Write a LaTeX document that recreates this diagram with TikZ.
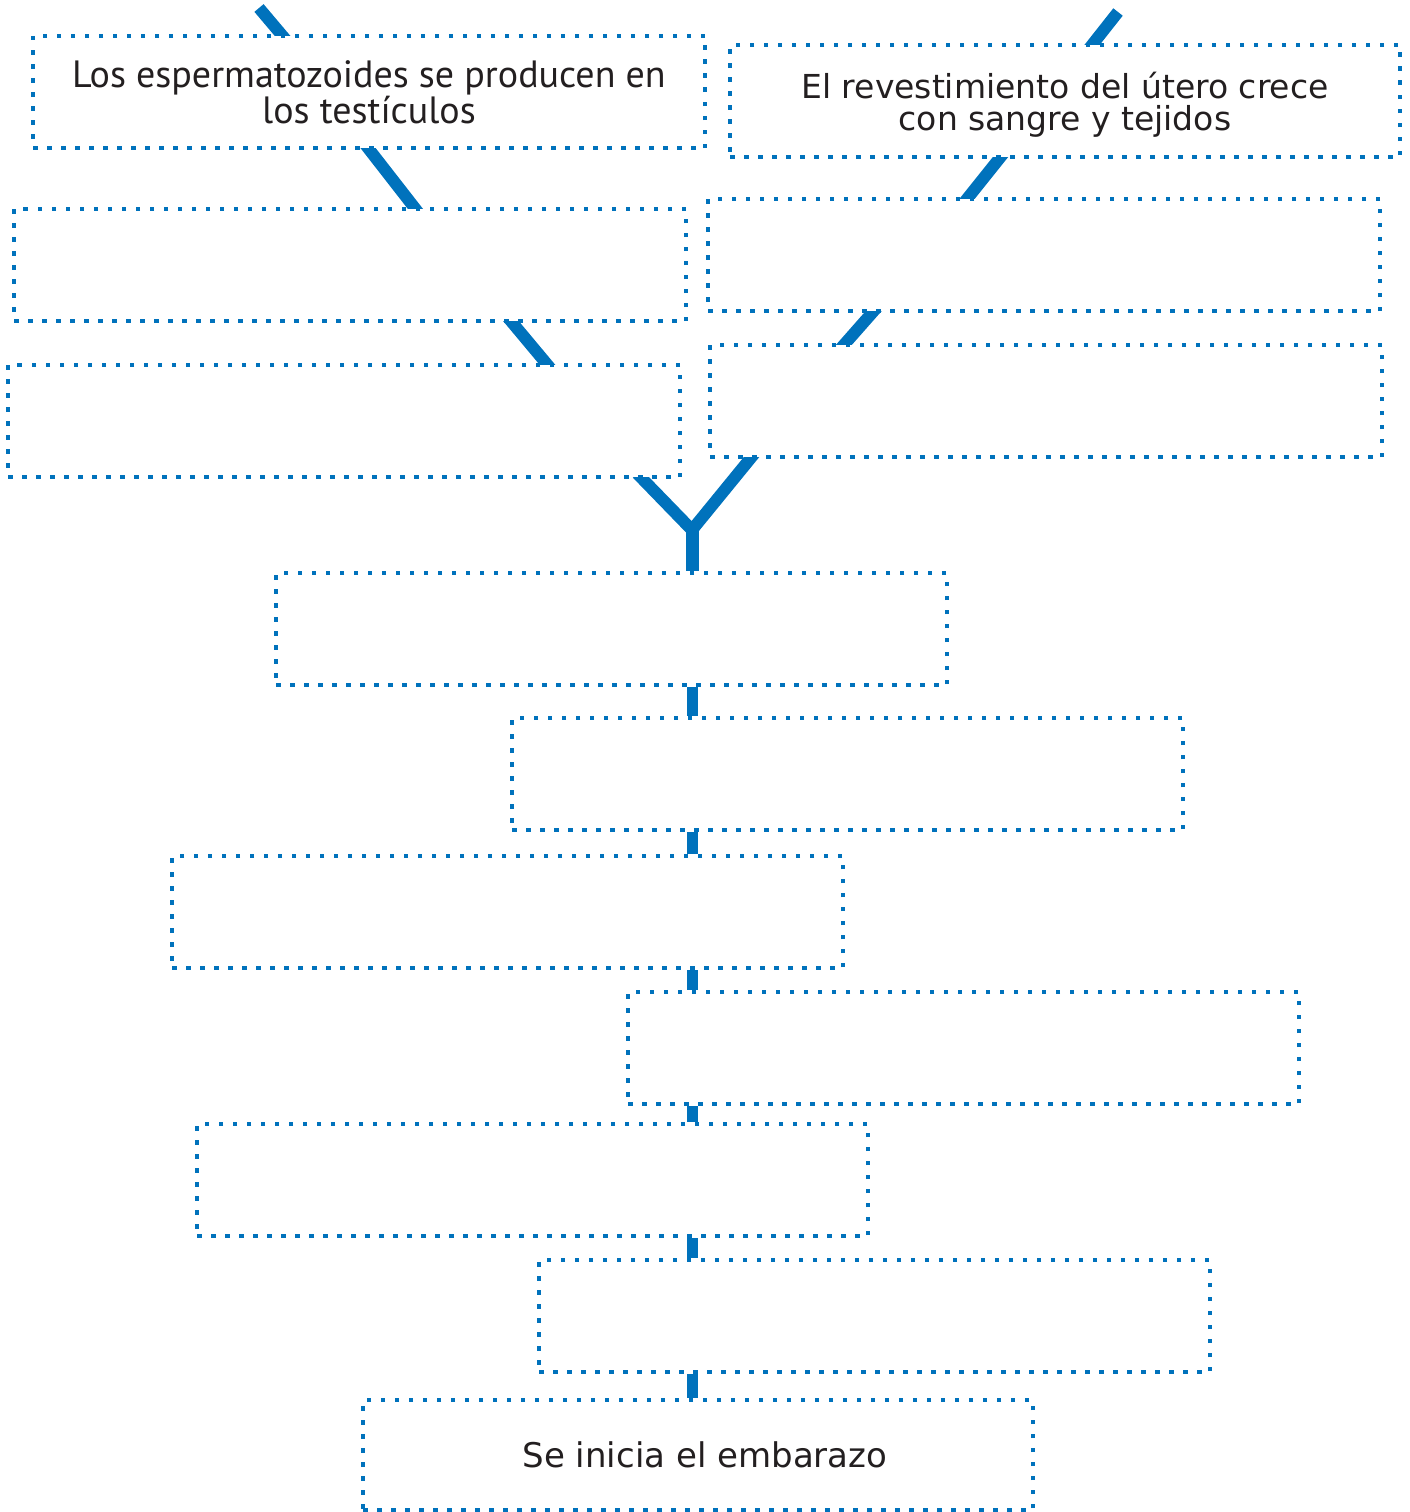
\documentclass[tikz,border=0pt]{standalone}
\usepackage{fontspec}
\setmainfont{PT Sans}
\newfontfamily\leftfont{PT Sans}
\newfontfamily\rightfont{DejaVu Sans}
\usetikzlibrary{backgrounds}
\definecolor{lineblue}{HTML}{0072BC}
\definecolor{textdark}{HTML}{231F20}
\tikzset{
  dotbox/.style={rectangle, draw=lineblue, line width=4.5pt, dash pattern=on 4.5pt off 9.5pt,
    fill=white, inner sep=0pt, minimum width=672pt, minimum height=112pt,
    text=textdark, align=center},
  lefttext/.style={font=\leftfont\fontsize{38}{31}\selectfont},
  righttext/.style={font=\rightfont\fontsize{33}{32}\selectfont},
  bottomtext/.style={font=\rightfont\fontsize{34}{36}\selectfont},
  diag/.style={draw=lineblue, line width=12pt, line cap=butt},
  vert/.style={draw=lineblue, line width=11pt, line cap=butt},
}
\begin{document}
\begin{tikzpicture}[x=1pt, y=-1pt]
\useasboundingbox (0,0) rectangle (1410,1512);
% left column
\node[dotbox, lefttext] (L1) at (369,92) {Los espermatozoides se producen en\\los testículos};
\node[dotbox] (L2) at (350,265) {};
\node[dotbox] (L3) at (344,421) {};
% right column
\node[dotbox, righttext, minimum width=670pt] (R1) at (1065,101) {\rule{0pt}{33pt}El revestimiento del útero crece\\con sangre y tejidos};
\node[dotbox] (R2) at (1044,255) {};
\node[dotbox] (R3) at (1046,401) {};
% central chain
\node[dotbox, minimum width=671pt] (C1) at (611.5,629) {};
\node[dotbox, minimum width=671pt] (C2) at (847.5,774) {};
\node[dotbox, minimum width=671pt] (C3) at (507.5,912) {};
\node[dotbox, minimum width=671pt] (C4) at (963.5,1048) {};
\node[dotbox, minimum width=671pt] (C5) at (532.5,1180) {};
\node[dotbox, minimum width=671pt] (C6) at (874.5,1316) {};
\node[dotbox, bottomtext, minimum width=670pt, minimum height=110pt] (C7) at (698,1455) {\hspace*{14pt}Se inicia el embarazo};
\coordinate (TL) at (259,8);
\coordinate (TR) at (1118,12);
\coordinate (J) at (692,530);
\begin{scope}[on background layer]
  \draw[diag, shorten >=-8pt] (TL) -- ([xshift=250pt]L1.north west);
  \draw[diag, shorten <=-8pt, shorten >=-8pt] ([xshift=339pt]L1.south west) -- ([xshift=402pt]L2.north west);
  \draw[diag, shorten <=-8pt, shorten >=-8pt] ([xshift=501pt]L2.south west) -- ([xshift=540pt]L3.north west);
  \draw[diag, shorten >=-8pt] (TR) -- ([xshift=366pt]R1.north west);
  \draw[diag, shorten <=-8pt, shorten >=-8pt] ([xshift=271pt]R1.south west) -- ([xshift=263pt]R2.north west);
  \draw[diag, shorten <=-8pt, shorten >=-8pt] ([xshift=166pt]R2.south west) -- ([xshift=138pt]R3.north west);
  % Y junction
  \draw[diag, line join=miter, shorten <=-8pt, shorten >=-8pt] ([xshift=637pt]L3.south west) -- (J) -- ([xshift=42pt]R3.south west);
  \draw[draw=lineblue, line width=13pt] (J) -- (C1.north -| J);
  % vertical chain
  \draw[vert] (C1.south -| J) -- (C2.north -| J);
  \draw[vert] (C2.south -| J) -- (C3.north -| J);
  \draw[vert] (C3.south -| J) -- (C4.north -| J);
  \draw[vert] (C4.south -| J) -- (C5.north -| J);
  \draw[vert] (C5.south -| J) -- (C6.north -| J);
  \draw[vert] (C6.south -| J) -- (C7.north -| J);
\end{scope}
\end{tikzpicture}
\end{document}
